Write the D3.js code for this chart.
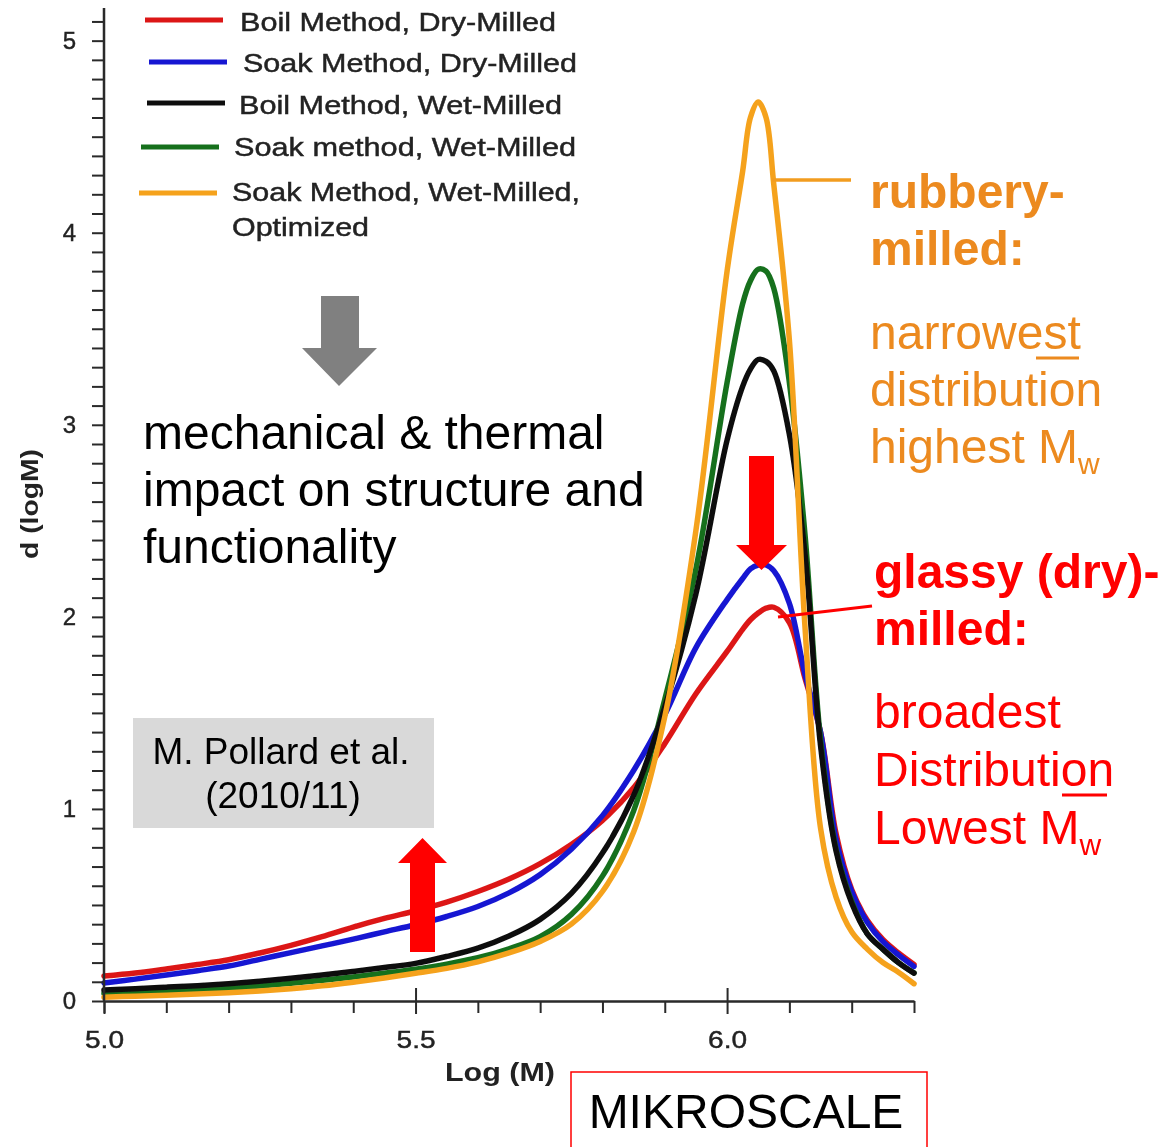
<!DOCTYPE html>
<html>
<head>
<meta charset="utf-8">
<script src="https://cdn.jsdelivr.net/npm/d3@7"></script>
<style>
  html, body { margin: 0; padding: 0; background: #fff; }
  svg { display: block; font-family: "Liberation Sans", Arial, Helvetica, sans-serif; }
</style>
</head>
<body>
<svg id="fig" width="1161" height="1147"></svg>
<script>
// ---- Molecular weight distributions, d(logM) vs Log(M) ----
const logM = [5.00, 5.05, 5.10, 5.15, 5.20, 5.25, 5.30, 5.35, 5.40, 5.45, 5.50, 5.55, 5.60, 5.65, 5.70, 5.75, 5.80,
              5.85, 5.90, 5.95, 6.00, 6.025, 6.0375, 6.05, 6.0625, 6.075, 6.10, 6.125, 6.15, 6.175, 6.20, 6.225, 6.25, 6.275, 6.30];

const boilDryMilled = [0.13, 0.146, 0.167, 0.19, 0.215, 0.25, 0.29, 0.335, 0.385, 0.43, 0.47, 0.515, 0.57, 0.635, 0.715, 0.815, 0.94,
                       1.11, 1.34, 1.60, 1.82, 1.935, 1.985, 2.02, 2.045, 2.05, 1.97, 1.68, 1.40, 0.87, 0.58, 0.42, 0.32, 0.25, 0.19];
const soakDryMilled = [0.094, 0.114, 0.135, 0.158, 0.182, 0.217, 0.252, 0.287, 0.322, 0.36, 0.397, 0.44, 0.492, 0.563, 0.658, 0.79, 0.965,
                       1.20, 1.49, 1.84, 2.09, 2.20, 2.25, 2.27, 2.27, 2.24, 2.07, 1.70, 1.40, 0.84, 0.57, 0.41, 0.31, 0.24, 0.18];
const boilWetMilled = [0.057, 0.064, 0.072, 0.08, 0.09, 0.103, 0.118, 0.135, 0.154, 0.174, 0.196, 0.232, 0.275, 0.338, 0.425, 0.56, 0.77,
                       1.07, 1.53, 2.12, 2.92, 3.20, 3.29, 3.34, 3.33, 3.28, 2.95, 2.33, 1.33, 0.78, 0.51, 0.35, 0.27, 0.20, 0.145];
const soakWetMilled = [0.04, 0.045, 0.05, 0.058, 0.067, 0.078, 0.092, 0.108, 0.125, 0.145, 0.166, 0.192, 0.225, 0.272, 0.335, 0.45, 0.65,
                       0.99, 1.57, 2.25, 3.22, 3.63, 3.75, 3.81, 3.80, 3.71, 3.22, 2.43, 1.36, 0.79, 0.52, 0.35, 0.27, 0.20, 0.146];
const soakWetOptimized = [0.02, 0.025, 0.03, 0.036, 0.043, 0.052, 0.064, 0.079, 0.098, 0.12, 0.144, 0.17, 0.204, 0.25, 0.31, 0.40, 0.57,
                          0.88, 1.48, 2.45, 3.80, 4.32, 4.60, 4.68, 4.60, 4.25, 3.44, 1.95, 0.90, 0.54, 0.36, 0.27, 0.20, 0.15, 0.09];

const seriesLabels = ["Boil Method, Dry-Milled", "Soak Method, Dry-Milled", "Boil Method, Wet-Milled",
                      "Soak method, Wet-Milled", "Soak Method, Wet-Milled,"];
const legendExtraLine = "Optimized";

const xMajorTicks = [5.0, 5.5, 6.0];
const yMajorTicks = [0, 1, 2, 3, 4, 5];
const xTitle = "Log (M)";
const yTitle = "d (logM)";

// ---- drawing ----
const svg = d3.select("#fig");
const defs = svg.append("defs");
defs.append("filter").attr("id", "soft").attr("x", "-5%").attr("y", "-5%").attr("width", "110%").attr("height", "110%")
  .append("feGaussianBlur").attr("stdDeviation", 0.6);

const x = d3.scaleLinear().domain([5.0, 6.3]).range([104, 914]);
const y = d3.scaleLinear().domain([0, 5.17]).range([1001, 8]);

const chart = svg.append("g").attr("filter", "url(#soft)");
const axisColor = "#2a2a2a";
const labelColor = "#222222";

// curves
const series = [
  { values: boilDryMilled,    color: "#dc1818" },
  { values: soakDryMilled,    color: "#1616d2" },
  { values: soakWetMilled,    color: "#16701f" },
  { values: boilWetMilled,    color: "#111111" },
  { values: soakWetOptimized, color: "#f5a21c" }
];
const line = d3.line().x(d => x(d[0])).y(d => y(d[1])).curve(d3.curveCatmullRom.alpha(0.5));
chart.append("g").selectAll("path").data(series).join("path")
  .attr("d", s => line(logM.map((m, i) => [m, s.values[i]])))
  .attr("fill", "none")
  .attr("stroke", s => s.color)
  .attr("stroke-width", 5.5)
  .attr("stroke-linejoin", "round")
  .attr("stroke-linecap", "round");

// y axis: minor ticks every 0.1, labels on integers
const yMinor = d3.range(0, 52).map(i => +(i / 10).toFixed(1));
const yAxis = d3.axisLeft(y).tickValues(yMinor).tickSize(12).tickSizeOuter(0).tickPadding(16)
  .tickFormat(d => yMajorTicks.includes(d) ? d3.format("d")(d) : "");
const gy = chart.append("g").attr("transform", `translate(${x(5.0)},0)`).call(yAxis);
gy.select(".domain").attr("stroke", axisColor).attr("stroke-width", 2.5).attr("d", `M0,${y(0)}V${y(5.17)}`);
gy.selectAll(".tick line").attr("stroke", axisColor).attr("stroke-width", 2);
gy.selectAll(".tick text").attr("font-size", 24).attr("fill", labelColor)
  .attr("stroke", labelColor).attr("stroke-width", 0.4)
  .attr("font-family", "Liberation Sans, Arial, sans-serif");

// x axis: minor ticks every 0.1 pointing down, majors crossing the axis
const xMinor = d3.range(0, 14).map(i => +(5 + i / 10).toFixed(1)).filter(v => !xMajorTicks.includes(v) || v === 5.0);
const gxMinor = chart.append("g").attr("transform", `translate(0,${y(0)})`)
  .call(d3.axisBottom(x).tickValues(xMinor).tickSize(12).tickSizeOuter(0).tickFormat(""));
gxMinor.select(".domain").attr("stroke", axisColor).attr("stroke-width", 2.5);
gxMinor.selectAll(".tick line").attr("stroke", axisColor).attr("stroke-width", 2);

const gxMajor = chart.append("g").attr("transform", `translate(0,${y(0)})`)
  .call(d3.axisBottom(x).tickValues(xMajorTicks).tickSize(13).tickSizeOuter(0).tickPadding(18)
    .tickFormat(d3.format(".1f")));
gxMajor.select(".domain").remove();
gxMajor.selectAll(".tick line").attr("y1", d => d === 5.0 ? 0 : -13).attr("stroke", axisColor).attr("stroke-width", 2);
gxMajor.selectAll(".tick text").attr("font-size", 23).attr("fill", labelColor)
  .attr("stroke", labelColor).attr("stroke-width", 0.4)
  .attr("font-family", "Liberation Sans, Arial, sans-serif")
  .attr("textLength", 39).attr("lengthAdjust", "spacingAndGlyphs");

// axis titles
chart.append("text").attr("x", 500).attr("y", 1081).attr("text-anchor", "middle")
  .attr("font-size", 25).attr("font-weight", "bold").attr("fill", labelColor)
  .attr("textLength", 110).attr("lengthAdjust", "spacingAndGlyphs").text(xTitle);
chart.append("text").attr("transform", "translate(38,504) rotate(-90)").attr("text-anchor", "middle")
  .attr("font-size", 23).attr("font-weight", "bold").attr("fill", labelColor)
  .attr("textLength", 110).attr("lengthAdjust", "spacingAndGlyphs").text(yTitle);

// legend
const legendRows = [
  { lx: 145, ty: 31, tx: 240, tw: 316, ly: 20 },
  { lx: 149, ty: 72, tx: 243, tw: 334, ly: 62 },
  { lx: 147, ty: 114, tx: 239, tw: 323, ly: 103 },
  { lx: 141, ty: 156, tx: 234, tw: 342, ly: 147 },
  { lx: 139, ty: 201, tx: 232, tw: 348, ly: 193 }
];
const legendColors = ["#dc1818", "#1616d2", "#111111", "#16701f", "#f5a21c"];
const legend = chart.append("g").attr("fill", labelColor).attr("stroke", labelColor).attr("stroke-width", 0.45);
seriesLabels.forEach((lab, i) => {
  const r = legendRows[i];
  legend.append("line").attr("x1", r.lx).attr("x2", r.lx + 78).attr("y1", r.ly).attr("y2", r.ly)
    .attr("stroke", legendColors[i]).attr("stroke-width", 5);
  legend.append("text").attr("x", r.tx).attr("y", r.ty).attr("font-size", 26)
    .attr("textLength", r.tw).attr("lengthAdjust", "spacingAndGlyphs").text(lab);
});
legend.append("text").attr("x", 232).attr("y", 236).attr("font-size", 26)
  .attr("textLength", 137).attr("lengthAdjust", "spacingAndGlyphs").text(legendExtraLine);

// ---- slide annotations ----
const ann = svg.append("g").attr("font-family", "Liberation Sans, Arial, sans-serif");

// grey arrow pointing down
ann.append("path")
  .attr("d", "M321,296 H359 V348 H377 L339,386 L302,348 H321 Z")
  .attr("fill", "#808080");

const mech = ["mechanical & thermal", "impact on structure and", "functionality"];
mech.forEach((t, i) => ann.append("text").attr("x", 143).attr("y", 449 + i * 57)
  .attr("font-size", 48).attr("fill", "#000").text(t));

// citation box
ann.append("rect").attr("x", 133).attr("y", 718).attr("width", 301).attr("height", 110).attr("fill", "#d9d9d9");
ann.append("text").attr("x", 281).attr("y", 764).attr("text-anchor", "middle").attr("font-size", 37)
  .attr("fill", "#000").text("M. Pollard et al.");
ann.append("text").attr("x", 283).attr("y", 808).attr("text-anchor", "middle").attr("font-size", 37)
  .attr("fill", "#000").text("(2010/11)");

// red arrows
ann.append("path").attr("d", "M410,952 V863 H398 L422.5,838 L447,863 H435 V952 Z").attr("fill", "#ff0000");
ann.append("path").attr("d", "M749,456 H774 V545 H787 L761.5,570 L736,545 H749 Z").attr("fill", "#ff0000");

// leader lines
const orangeText = "#ec8a1f";
ann.append("line").attr("x1", 772).attr("y1", 180).attr("x2", 851).attr("y2", 180)
  .attr("stroke", "#f29c1f").attr("stroke-width", 3.5);
ann.append("line").attr("x1", 778).attr("y1", 617).attr("x2", 872).attr("y2", 606)
  .attr("stroke", "#ff0000").attr("stroke-width", 3);

// rubbery-milled block
ann.append("text").attr("x", 870).attr("y", 208).attr("font-size", 48).attr("font-weight", "bold")
  .attr("fill", orangeText).text("rubbery-");
ann.append("text").attr("x", 870).attr("y", 265).attr("font-size", 48).attr("font-weight", "bold")
  .attr("fill", orangeText).text("milled:");
ann.append("text").attr("x", 870).attr("y", 349).attr("font-size", 48).attr("fill", orangeText).text("narrowest");
ann.append("text").attr("x", 870).attr("y", 406).attr("font-size", 48).attr("fill", orangeText).text("distribution");
const hi = ann.append("text").attr("x", 870).attr("y", 463).attr("font-size", 48).attr("fill", orangeText);
hi.append("tspan").text("highest M");
hi.append("tspan").attr("font-size", 30).attr("dy", 11).text("w");
ann.append("line").attr("x1", 1036).attr("x2", 1079).attr("y1", 358).attr("y2", 358)
  .attr("stroke", orangeText).attr("stroke-width", 3);

// glassy-milled block
ann.append("text").attr("x", 874).attr("y", 588).attr("font-size", 48).attr("font-weight", "bold")
  .attr("fill", "#ff0000").text("glassy (dry)-");
ann.append("text").attr("x", 874).attr("y", 645).attr("font-size", 48).attr("font-weight", "bold")
  .attr("fill", "#ff0000").text("milled:");
ann.append("text").attr("x", 874).attr("y", 728).attr("font-size", 48).attr("fill", "#ff0000").text("broadest");
ann.append("text").attr("x", 874).attr("y", 786).attr("font-size", 48).attr("fill", "#ff0000").text("Distribution");
const lo = ann.append("text").attr("x", 874).attr("y", 844).attr("font-size", 48).attr("fill", "#ff0000");
lo.append("tspan").text("Lowest M");
lo.append("tspan").attr("font-size", 30).attr("dy", 11).text("w");
ann.append("line").attr("x1", 1062).attr("x2", 1107).attr("y1", 795).attr("y2", 795)
  .attr("stroke", "#ff0000").attr("stroke-width", 3);

// scale box
ann.append("rect").attr("x", 571).attr("y", 1072).attr("width", 356).attr("height", 90)
  .attr("fill", "none").attr("stroke", "#ff0000").attr("stroke-width", 1.5);
ann.append("text").attr("x", 746).attr("y", 1128).attr("text-anchor", "middle").attr("font-size", 48)
  .attr("fill", "#000").text("MIKROSCALE");
</script>
</body>
</html>
